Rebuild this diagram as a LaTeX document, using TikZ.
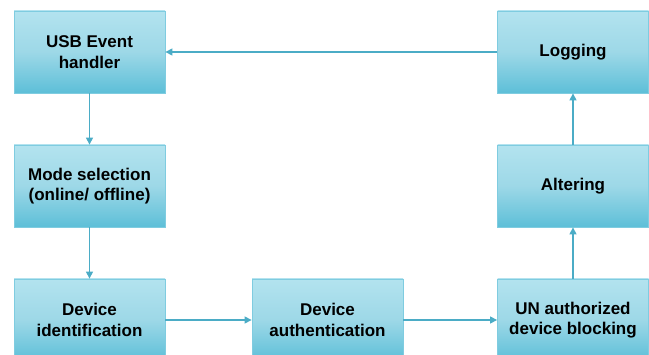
\documentclass[tikz,border=0pt]{standalone}
\usepackage{fontspec}
\setmainfont{Liberation Sans}
\usetikzlibrary{arrows.meta}
\definecolor{edge}{HTML}{7FCCE0}
\definecolor{topc}{HTML}{B3E3EF}
\definecolor{midc}{HTML}{9DD8E7}
\definecolor{botc}{HTML}{5DBFD8}
\definecolor{arr}{HTML}{4BACC6}
\tikzset{
  box/.style={draw=edge, line width=0.8pt, top color=topc, bottom color=botc, middle color=midc,
    minimum width=151pt, minimum height=82pt, align=center, inner sep=0pt,
    font=\fontsize{17}{20.5}\selectfont\bfseries, text=black},
  conn/.style={draw=arr, line width=1.2pt, -{Triangle[length=7pt,width=7pt]}}
}
\begin{document}
\begin{tikzpicture}[x=1pt,y=-1pt]
\useasboundingbox (0,0) rectangle (649,355);
\clip (0,0) rectangle (649,355);
\node[box] (usb) at (89.5,52) {USB Event\\handler};
\node[box] (mode) at (89.5,186) {Mode selection\\(online/ offline)};
\node[box] (id) at (89.5,320) {Device\\identification};
\node[box] (auth) at (327.5,320) {Device\\authentication};
\node[box] (block) at (573,320) {UN authorized\\device blocking};
\node[box] (alter) at (573,186) {Altering};
\node[box] (log) at (573,52) {Logging};
\draw[conn] (log) -- (usb);
\draw[conn] (usb) -- (mode);
\draw[conn] (mode) -- (id);
\draw[conn] (id) -- (auth);
\draw[conn] (auth) -- (block);
\draw[conn] (block) -- (alter);
\draw[conn] (alter) -- (log);
\end{tikzpicture}
\end{document}
